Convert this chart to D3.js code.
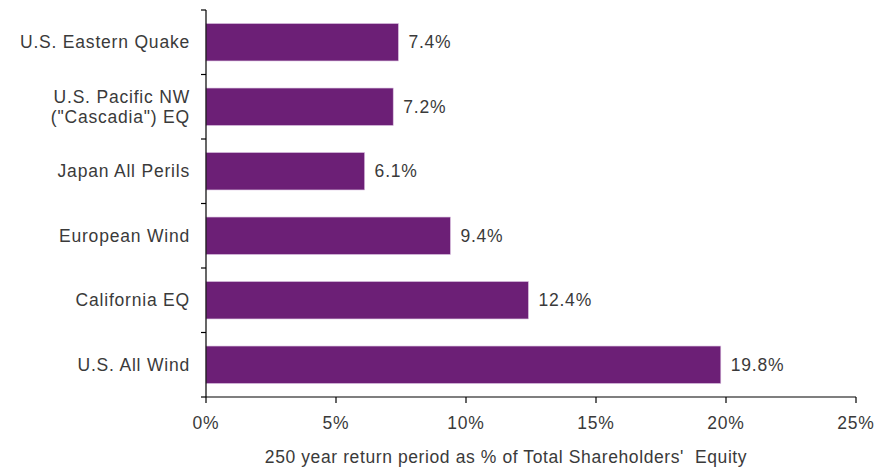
<!DOCTYPE html>
<html>
<head>
<meta charset="utf-8">
<script src="https://cdnjs.cloudflare.com/ajax/libs/d3/7.8.5/d3.min.js"></script>
<style>
  body { margin: 0; background: #fff; }
  text { font-family: "Liberation Sans", Arial, sans-serif; fill: #3a3a3a; font-size: 17.5px; letter-spacing: 0.8px; white-space: pre; }
  text.title { letter-spacing: 0.6px; }
</style>
</head>
<body>
<script>
  var categories = [["U.S. Eastern Quake"], ["U.S. Pacific NW", "(\"Cascadia\") EQ"], ["Japan All Perils"],
                    ["European Wind"], ["California EQ"], ["U.S. All Wind"]];
  var values = [7.4, 7.2, 6.1, 9.4, 12.4, 19.8];
  var ticks = [0, 5, 10, 15, 20, 25];
  var axisTitle = "250 year return period as % of Total Shareholders'  Equity";

  var svg = d3.select("body").append("svg").attr("width", 885).attr("height", 468);

  var x = d3.scaleLinear().domain([0, 25]).range([206, 856]);
  var y = d3.scaleBand().domain(d3.range(categories.length)).range([10, 397]).paddingInner(0.42).paddingOuter(0.21);

  // bars
  svg.selectAll("rect.bar").data(values).enter().append("rect")
    .attr("class", "bar")
    .attr("x", x(0))
    .attr("y", function (d, i) { return y(i); })
    .attr("width", function (d) { return x(d) - x(0); })
    .attr("height", y.bandwidth())
    .attr("fill", "#6c1f76")
    .attr("stroke", "#d9bedf")
    .attr("stroke-width", 0.6);

  // value labels
  svg.selectAll("text.val").data(values).enter().append("text")
    .attr("class", "val")
    .attr("x", function (d) { return x(d) + 10; })
    .attr("y", function (d, i) { return y(i) + y.bandwidth() / 2; })
    .attr("dy", "0.35em")
    .text(function (d) { return d.toFixed(1) + "%"; });

  // y axis line + ticks
  var g = svg.append("g").attr("stroke", "#000").attr("stroke-width", 1.2);
  g.append("line").attr("x1", x(0)).attr("x2", x(0)).attr("y1", 10).attr("y2", 397);
  d3.range(categories.length + 1).forEach(function (i) {
    var yy = 10 + i * (387 / categories.length);
    g.append("line").attr("x1", x(0) - 5).attr("x2", x(0)).attr("y1", yy).attr("y2", yy);
  });

  // x axis
  g.append("line").attr("x1", x(0)).attr("x2", x(25)).attr("y1", 397).attr("y2", 397);
  ticks.forEach(function (t) {
    g.append("line").attr("x1", x(t)).attr("x2", x(t)).attr("y1", 397).attr("y2", 403);
  });
  svg.selectAll("text.tick").data(ticks).enter().append("text")
    .attr("class", "tick")
    .attr("x", function (d) { return x(d); })
    .attr("y", 429)
    .attr("text-anchor", "middle")
    .text(function (d) { return d + "%"; });

  // category labels
  svg.selectAll("text.cat").data(categories).enter().append("text")
    .attr("class", "cat")
    .attr("text-anchor", "end")
    .each(function (d, i) {
      var cy = y(i) + y.bandwidth() / 2;
      var t = d3.select(this);
      d.forEach(function (line, j) {
        t.append("tspan")
          .attr("x", 190)
          .attr("y", cy + (j - (d.length - 1) / 2) * 20.5)
          .attr("dy", "0.35em")
          .text(line);
      });
    });

  svg.append("text")
    .attr("class", "title")
    .attr("x", 506)
    .attr("y", 463)
    .attr("text-anchor", "middle")
    .text(axisTitle);
</script>
</body>
</html>
